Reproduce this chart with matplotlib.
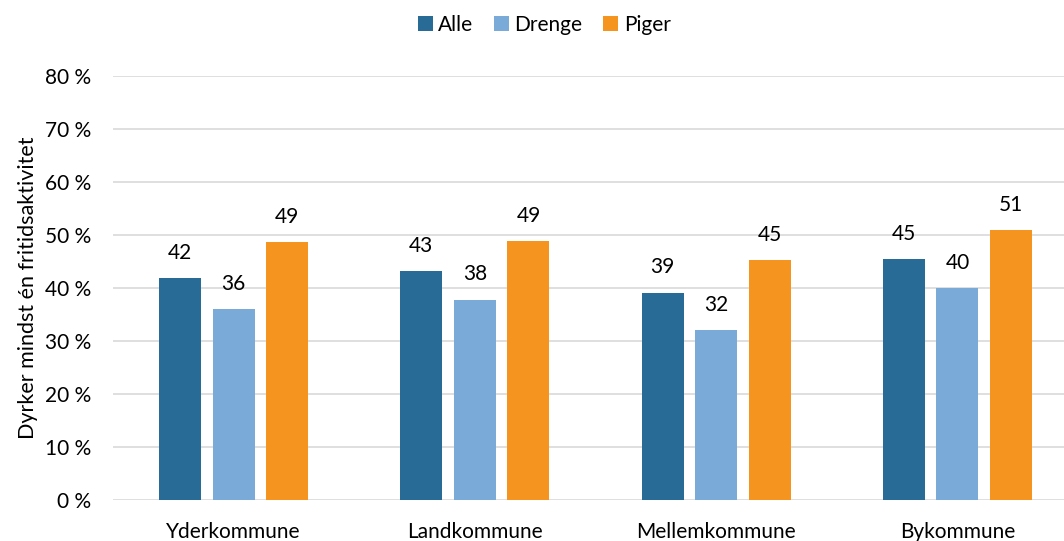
import matplotlib
matplotlib.use("Agg")
import matplotlib.pyplot as plt
import numpy as np
from matplotlib.ticker import FuncFormatter

categories = ["Yderkommune", "Landkommune", "Mellemkommune", "Bykommune"]
series_names = ["Alle", "Drenge", "Piger"]
alle = [41.9, 43.2, 39.1, 45.4]
drenge = [36.0, 37.8, 32.1, 40.0]
piger = [48.6, 48.9, 45.3, 50.9]
colors = ["#276b96", "#79aad8", "#f5951f"]
ylabel = "Dyrker mindst én fritidsaktivitet"

plt.rcParams['font.family'] = ['Lato', 'DejaVu Sans']
FS = 15

fig = plt.figure(figsize=(10.64, 5.41), dpi=100)
ax = fig.add_axes([0.1062, 0.0758, 0.907, 0.7837])

x = np.arange(len(categories))
width = 0.174
step = 0.222
for i, (name, vals, c) in enumerate(zip(series_names, [alle, drenge, piger], colors)):
    bars = ax.bar(x + (i - 1) * step, vals, width, color=c, label=name, zorder=3)
    for b, v in zip(bars, vals):
        ax.annotate(f"{round(v):d}", (b.get_x() + b.get_width() / 2, v),
                    xytext=(0, 11), textcoords="offset points",
                    ha="center", va="bottom", fontsize=FS, color="#000000")

ax.set_ylim(0, 80)
ax.set_xlim(-0.5, len(categories) - 0.5)
ax.set_yticks(np.arange(0, 81, 10))
ax.yaxis.set_major_formatter(FuncFormatter(lambda v, p: f"{int(v)} %"))
ax.grid(axis="y", color="#d9d9d9", linewidth=1.2, zorder=0)
ax.set_axisbelow(True)
for s in ax.spines.values():
    s.set_visible(False)
ax.tick_params(axis="y", length=0, pad=16, labelsize=FS)
ax.tick_params(axis="x", length=0, pad=16, labelsize=FS)
ax.set_xticks(x)
ax.set_xticklabels(categories)
ax.set_ylabel(ylabel, fontsize=FS + 0.5, labelpad=5)

ax.legend(loc="center", bbox_to_anchor=(0.447, 1.12), ncol=3, frameon=False,
          fontsize=FS, handlelength=0.72, handleheight=0.72, handletextpad=0.25,
          columnspacing=1.0)

fig.savefig("out.png", dpi=100)
